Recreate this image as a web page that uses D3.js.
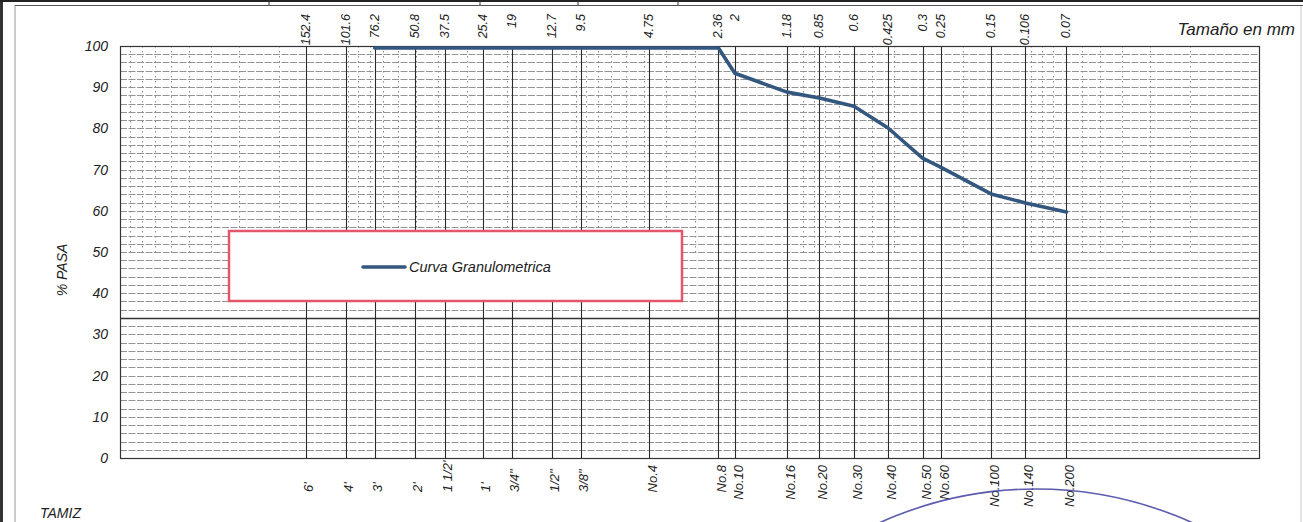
<!DOCTYPE html>
<html><head><meta charset="utf-8">
<script src="https://cdn.jsdelivr.net/npm/d3@7"></script>
<style>
html,body{margin:0;padding:0;background:#fff;}
svg{display:block;font-family:"Liberation Sans",Arial,sans-serif;}
</style></head>
<body><svg id="c" width="1303" height="522"></svg>
<script>
// ---- data ----
const sieveSizesMm = [152.4, 101.6, 76.2, 50.8, 37.5, 25.4, 19, 12.7, 9.5, 4.75, 2.36, 2, 1.18, 0.85, 0.6, 0.425, 0.3, 0.25, 0.15, 0.106, 0.07];
const topLabels = ["152.4","101.6","76.2","50.8","37.5","25.4","19","12.7","9.5","4.75","2.36","2","1.18","0.85","0.6","0.425","0.3","0.25","0.15","0.106","0.07"];
const sieveNames = ["6'","4'","3'","2'","1 1/2'","1'","3/4\"","1/2\"","3/8\"","No.4","No.8","No.10","No.16","No.20","No.30","No.40","No.50","No.60","No.100","No.140","No.200"];
const curveSizes = [76.2, 50.8, 37.5, 25.4, 19, 12.7, 9.5, 4.75, 2.36, 2, 1.18, 0.85, 0.6, 0.425, 0.3, 0.25, 0.15, 0.106, 0.07];
const curvePassing = [99.5, 99.5, 99.5, 99.5, 99.5, 99.5, 99.5, 99.5, 99.5, 93.4, 88.8, 87.4, 85.4, 80.1, 72.8, 70.6, 64.1, 61.9, 59.7];
const yTicks = [0,10,20,30,40,50,60,70,80,90,100];
const seriesName = "Curva Granulometrica";

// ---- layout ----
const svg = d3.select("#c");
const L = 120, R = 1259, T = 46, B = 458;
const x = d3.scaleLog().domain([1000, 0.01]).range([L, R]);
const y = d3.scaleLinear().domain([0, 100]).range([B, T]);

// page frame / scan artefacts
svg.append("rect").attr("x",0).attr("y",0).attr("width",3).attr("height",522).attr("fill","#333");
svg.append("line").attr("x1",15).attr("x2",15).attr("y1",5).attr("y2",522).attr("stroke","#999").attr("stroke-width",1);
svg.append("line").attr("x1",1301).attr("x2",1301).attr("y1",5).attr("y2",522).attr("stroke","#ccc").attr("stroke-width",1);
svg.append("line").attr("x1",0).attr("x2",1303).attr("y1",1).attr("y2",1).attr("stroke","#222").attr("stroke-width",2);
svg.append("line").attr("x1",15).attr("x2",1303).attr("y1",5.5).attr("y2",5.5).attr("stroke","#555").attr("stroke-width",1.2);
[269,480,578,678].forEach(v=>svg.append("line").attr("x1",v).attr("x2",v).attr("y1",0).attr("y2",5).attr("stroke","#333"));

// horizontal grid every 2%
const hLines = d3.range(2, 100, 2);
svg.append("g").selectAll("line").data(hLines).join("line")
  .attr("x1", L).attr("x2", R).attr("y1", d=>Math.round(y(d))+0.5).attr("y2", d=>Math.round(y(d))+0.5)
  .attr("stroke", d=> d===34 ? "#333" : "#888")
  .attr("stroke-width", d=> d===34 ? 1.4 : 0.9)
  .attr("stroke-dasharray", d=> d===34 ? null : "7,1.5");

// minor log verticals (dotted, upper half only)
const minors = [];
for (let e = -2; e <= 2; e++) for (let m = 1; m <= 9; m++) { const v = m*Math.pow(10,e); if (v>0.01 && v<1000) minors.push(v); }
svg.append("g").selectAll("line").data(minors).join("line")
  .attr("x1", d=>Math.round(x(d))+0.5).attr("x2", d=>Math.round(x(d))+0.5).attr("y1", T).attr("y2", y(50))
  .attr("stroke", "#8a8a8a").attr("stroke-width", 1).attr("stroke-dasharray", "1.5,3.5");

// sieve verticals (solid)
svg.append("g").selectAll("line").data(sieveSizesMm).join("line")
  .attr("x1", d=>Math.round(x(d))+0.5).attr("x2", d=>Math.round(x(d))+0.5).attr("y1", T).attr("y2", B)
  .attr("stroke", "#2a2a2a").attr("stroke-width", 1.1);

// plot border
svg.append("rect").attr("x",L+0.5).attr("y",T+0.5).attr("width",R-L).attr("height",B-T)
  .attr("fill","none").attr("stroke","#333").attr("stroke-width",1.2);

// y axis labels
svg.append("g").selectAll("text").data(yTicks).join("text")
  .attr("x", 108).attr("y", d=>y(d)).attr("dy","0.36em").attr("text-anchor","end")
  .attr("font-size", 14).attr("font-style","italic").attr("fill","#222").text(d=>d);
svg.append("text").attr("transform","translate(67,270) rotate(-90)").attr("text-anchor","middle")
  .attr("font-size",14).attr("font-style","italic").attr("fill","#222").text("% PASA");

// top labels (mm)
svg.append("g").selectAll("text").data(sieveSizesMm).join("text")
  .attr("transform", (d,i)=>`translate(${x(d)+4},14) rotate(-90)`)
  .attr("text-anchor","end").attr("font-size",12.5).attr("font-style","italic").attr("fill","#222")
  .text((d,i)=>topLabels[i]);
svg.append("text").attr("x",1295).attr("y",35).attr("text-anchor","end")
  .attr("font-size",17).attr("font-style","italic").attr("fill","#222").text("Tamaño en mm");

// bottom labels (sieve names)
svg.append("g").selectAll("text").data(sieveSizesMm).join("text")
  .attr("transform", (d,i)=> sieveNames[i].startsWith("No")
      ? `translate(${x(d)+8},465) rotate(-90)` : `translate(${x(d)+7},492) rotate(-90)`)
  .attr("text-anchor", (d,i)=> sieveNames[i].startsWith("No") ? "end" : "start")
  .attr("font-size",13).attr("font-style","italic").attr("fill","#222")
  .text((d,i)=>sieveNames[i]);
svg.append("text").attr("x",40).attr("y",518).attr("font-size",14).attr("font-style","italic").attr("fill","#222").text("TAMIZ");

// curve
const line = d3.line().x((d,i)=>x(curveSizes[i])).y((d,i)=>y(curvePassing[i]));
svg.append("path").datum(curvePassing).attr("d", line)
  .attr("fill","none").attr("stroke","#33577f").attr("stroke-width",3.6)
  .attr("stroke-linejoin","round").attr("stroke-linecap","round");

// legend
const lg = svg.append("g");
lg.append("rect").attr("x",229).attr("y",231).attr("width",453).attr("height",70)
  .attr("fill","#fff").attr("stroke","#e5566b").attr("stroke-width",2.5);
lg.append("line").attr("x1",363).attr("x2",405).attr("y1",267).attr("y2",267)
  .attr("stroke","#33577f").attr("stroke-width",3.6).attr("stroke-linecap","round");
lg.append("text").attr("x",409).attr("y",267).attr("dy","0.36em").attr("font-size",14.5)
  .attr("font-style","italic").attr("fill","#222").text(seriesName);

// stamp arc
svg.append("circle").attr("cx",1036).attr("cy",868).attr("r",379)
  .attr("fill","none").attr("stroke","#4040a0").attr("stroke-width",1.6).attr("opacity",0.85);
</script></body></html>
